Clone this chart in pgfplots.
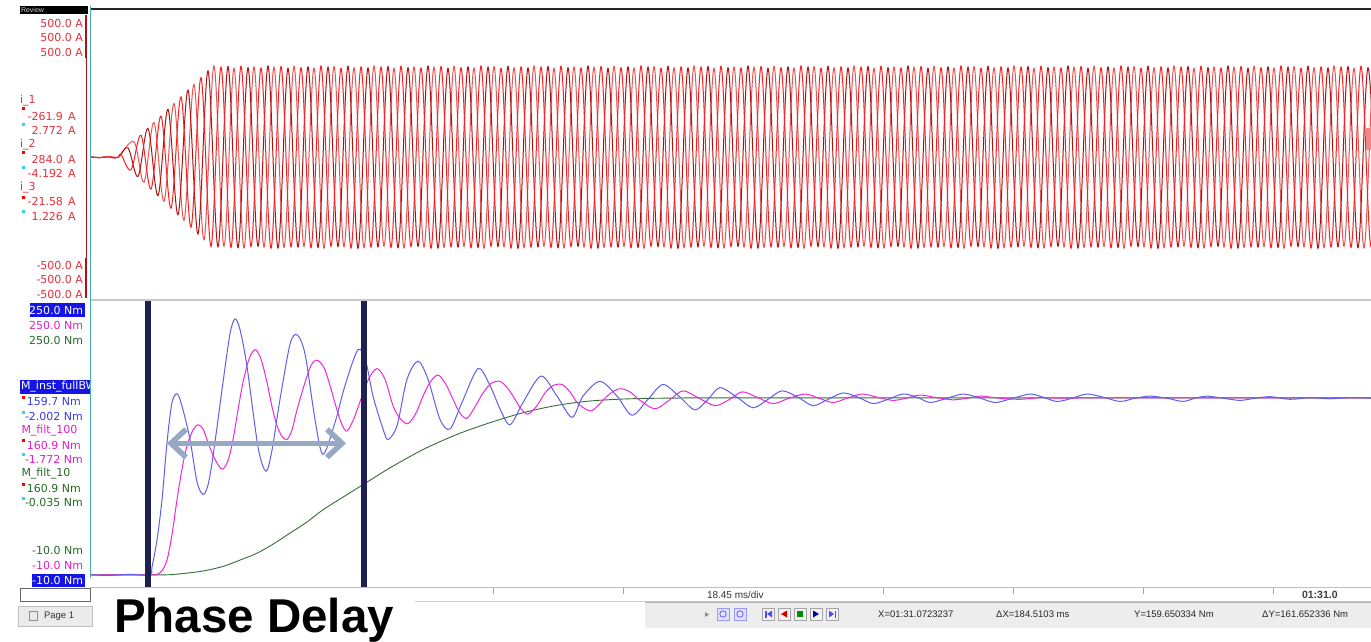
\documentclass[border=0pt]{standalone}
\usepackage{pgfplots}
\pgfplotsset{compat=1.18}
\usetikzlibrary{arrows.meta}
\usepackage{fontspec}
\setmainfont{DejaVu Sans}
\newfontfamily\arialf{Liberation Sans}
\definecolor{ra}{RGB}{250,30,30}
\definecolor{rb}{RGB}{170,20,20}
\definecolor{rc}{RGB}{232,85,85}
\definecolor{cblue}{RGB}{95,95,235}
\definecolor{cmag}{RGB}{240,40,215}
\definecolor{cgrn}{RGB}{55,110,55}
\definecolor{lbred}{RGB}{228,48,58}
\definecolor{lbmag}{RGB}{225,30,205}
\definecolor{lbgrn}{RGB}{40,105,40}
\definecolor{lbblue}{RGB}{60,60,225}
\definecolor{hlblue}{RGB}{20,20,230}
\definecolor{navy}{RGB}{30,32,80}
\definecolor{arrowc}{RGB}{150,168,195}
\definecolor{tealc}{RGB}{64,176,176}
\definecolor{cyanm}{RGB}{60,210,225}
\newcommand\lbl{\fontsize{11}{13}\selectfont}
\begin{document}
\begin{tikzpicture}
\useasboundingbox[fill=white] (0pt,0pt) rectangle (1371pt,641pt);
% ---------------- upper axis: phase currents ----------------
\begin{axis}[at={(91pt,343pt)}, anchor=south west, scale only axis,
  width=1280pt, height=286pt, hide axis,
  xmin=91, xmax=1371, ymin=-500, ymax=500]
\addplot[rc, line width=1pt, smooth, tension=0.55] coordinates {
(91,-7)(100,-9)(108,-6)(118,-8)
(134,46)(144,-95)(154,113)(164,-162)(174,180)(184,-229)(194,247)(204,-296)
(214,311)(224,-319)(234,303)(244,-325)(254,308)(264,-322)(274,307)(284,-323)(294,310)(304,-320)(314,304)(324,-326)(334,309)(344,-321)(354,305)(364,-324)
(374,311)(384,-319)(394,303)(404,-325)(414,308)(424,-322)(434,307)(444,-323)(454,310)(464,-320)(474,304)(484,-326)(494,309)(504,-321)(514,305)(524,-324)
(534,311)(544,-319)(554,303)(564,-325)(574,308)(584,-322)(594,307)(604,-323)(614,310)(624,-320)(634,304)(644,-326)(654,309)(664,-321)(674,305)(684,-324)
(694,311)(704,-319)(714,303)(724,-325)(734,308)(744,-322)(754,307)(764,-323)(774,310)(784,-320)(794,304)(804,-326)(814,309)(824,-321)(834,305)(844,-324)
(854,311)(864,-319)(874,303)(884,-325)(894,308)(904,-322)(914,307)(924,-323)(934,310)(944,-320)(954,304)(964,-326)(974,309)(984,-321)(994,305)(1004,-324)
(1014,311)(1024,-319)(1034,303)(1044,-325)(1054,308)(1064,-322)(1074,307)(1084,-323)(1094,310)(1104,-320)(1114,304)(1124,-326)(1134,309)(1144,-321)(1154,305)(1164,-324)
(1174,311)(1184,-319)(1194,303)(1204,-325)(1214,308)(1224,-322)(1234,307)(1244,-323)(1254,310)(1264,-320)(1274,304)(1284,-326)(1294,309)(1304,-321)(1314,305)(1324,-324)
(1334,311)(1344,-319)(1354,303)(1364,-325)(1374,308)(1384,-322)
};
\addplot[rb, line width=1pt, smooth, tension=0.55] coordinates {
(91,-7)(100,-9)(108,-6)(118,-8)
(128,25)(138,-75)(148,93)(158,-142)(168,160)(178,-209)(188,227)(198,-276)(208,294)
(218,-321)(228,309)(238,-324)(248,305)(258,-319)(268,311)(278,-325)(288,303)(298,-322)(308,308)(318,-323)(328,307)(338,-320)(348,310)(358,-326)(368,304)
(378,-321)(388,309)(398,-324)(408,305)(418,-319)(428,311)(438,-325)(448,303)(458,-322)(468,308)(478,-323)(488,307)(498,-320)(508,310)(518,-326)(528,304)
(538,-321)(548,309)(558,-324)(568,305)(578,-319)(588,311)(598,-325)(608,303)(618,-322)(628,308)(638,-323)(648,307)(658,-320)(668,310)(678,-326)(688,304)
(698,-321)(708,309)(718,-324)(728,305)(738,-319)(748,311)(758,-325)(768,303)(778,-322)(788,308)(798,-323)(808,307)(818,-320)(828,310)(838,-326)(848,304)
(858,-321)(868,309)(878,-324)(888,305)(898,-319)(908,311)(918,-325)(928,303)(938,-322)(948,308)(958,-323)(968,307)(978,-320)(988,310)(998,-326)(1008,304)
(1018,-321)(1028,309)(1038,-324)(1048,305)(1058,-319)(1068,311)(1078,-325)(1088,303)(1098,-322)(1108,308)(1118,-323)(1128,307)(1138,-320)(1148,310)(1158,-326)(1168,304)
(1178,-321)(1188,309)(1198,-324)(1208,305)(1218,-319)(1228,311)(1238,-325)(1248,303)(1258,-322)(1268,308)(1278,-323)(1288,307)(1298,-320)(1308,310)(1318,-326)(1328,304)
(1338,-321)(1348,309)(1358,-324)(1368,305)(1378,-319)
};
\addplot[ra, line width=1pt, smooth, tension=0.55] coordinates {
(91,-7)(100,-9)(108,-6)(118,-8)
(121,2)(131,-52)(141,69)(151,-119)(161,136)(171,-186)(181,203)(191,-253)(201,270)(211,-320)
(221,307)(231,-323)(241,310)(251,-320)(261,304)(271,-326)(281,309)(291,-321)(301,305)(311,-324)(321,311)(331,-319)(341,303)(351,-325)(361,308)(371,-322)
(381,307)(391,-323)(401,310)(411,-320)(421,304)(431,-326)(441,309)(451,-321)(461,305)(471,-324)(481,311)(491,-319)(501,303)(511,-325)(521,308)(531,-322)
(541,307)(551,-323)(561,310)(571,-320)(581,304)(591,-326)(601,309)(611,-321)(621,305)(631,-324)(641,311)(651,-319)(661,303)(671,-325)(681,308)(691,-322)
(701,307)(711,-323)(721,310)(731,-320)(741,304)(751,-326)(761,309)(771,-321)(781,305)(791,-324)(801,311)(811,-319)(821,303)(831,-325)(841,308)(851,-322)
(861,307)(871,-323)(881,310)(891,-320)(901,304)(911,-326)(921,309)(931,-321)(941,305)(951,-324)(961,311)(971,-319)(981,303)(991,-325)(1001,308)(1011,-322)
(1021,307)(1031,-323)(1041,310)(1051,-320)(1061,304)(1071,-326)(1081,309)(1091,-321)(1101,305)(1111,-324)(1121,311)(1131,-319)(1141,303)(1151,-325)(1161,308)(1171,-322)
(1181,307)(1191,-323)(1201,310)(1211,-320)(1221,304)(1231,-326)(1241,309)(1251,-321)(1261,305)(1271,-324)(1281,311)(1291,-319)(1301,303)(1311,-325)(1321,308)(1331,-322)
(1341,307)(1351,-323)(1361,310)(1371,-320)(1381,304)
};
\end{axis}
% ---------------- lower axis: torque ----------------
\begin{axis}[at={(91pt,64pt)}, anchor=south west, scale only axis,
  width=1280pt, height=275pt, hide axis, clip=false,
  xmin=91, xmax=1371, ymin=-10, ymax=250]
\addplot[cgrn, line width=0.9pt, smooth] coordinates {
(91,-8)(150,-8)(170,-7.8)(190,-6)(205,-4)(223,0)(240,6)(257,12.5)(273,21)(290,31.5)(307,42)(323,53.6)(343,65.5)(363,77.3)(390,93.2)(423,110.5)(457,124.8)(490,135.9)(523,145.3)(557,152.3)(590,156.4)(630,158.5)(680,159.2)(750,159.4)(1371,159.4)
};
\addplot[cmag, line width=1pt, smooth] coordinates {
(91,-8)(150,-8)(157,-7.5)(162,-4)(167,6)(172,30)(177,63)(182,92)(187,114)(193,129)(198,134)(203,130)(207,120)(214,103)(222,92)(228,100)(233,120)(238,148)(243,174)(249,196)(255,205)(261,196)(267,174)(272,151)(277,133)(282,123)(287,120)(292,129)(297,148)(305,174)(311,190)(317,195)(324,188)(330,171)(337,148)(342,134)(347,128)(354,140)(362,161)(369,178)(377,187)(385,177)(393,152)(400,140)(408,135)(416,145)(423,161)(430,174)(438,181)(446,172)(453,158)(460,145)(467,140)(475,151)(483,164)(491,173)(500,175)(508,168)(515,158)(521,149)(528,144)(537,152)(545,164)(553,171)(562,172)(570,165)(578,154)(590,147)(598,152)(606,160)(614,166)(621,168)(630,165)(640,157)(655,149)(669,157)(683,166)(699,159)(715,152)(728,157)(742,165)(757,160)(773,154)(789,159)(805,163)(819,159)(833,155)(847,159)(862,163)(877,160)(893,157)(906,159)(920,162)(937,159.5)(953,157.5)(967,159)(980,161)(1000,159)(1020,158)(1040,159.5)(1060,159)(1100,159.3)(1371,159.3)
};
\addplot[cblue, line width=1pt, smooth] coordinates {
(91,-8)(110,-8.5)(130,-7.5)(150,-8)(152,-0.5)(157,25)(162,63)(167,117)(172,155)(177.5,163)(183,148)(190,120)(197,80)(203,68)(208,77)(213,104)(223,174)(230,220)(235,234)(240,224)(247,189)(258,113)(266,90)(272,110)(280,158)(290,210)(297,219)(305,201)(315,139)(323,106)(335,136)(345,171)(358,205)(366,193)(373,161)(383,130)(388,120)(397,133)(407,177)(418,194)(428,177)(440,139)(450,130)(462,155)(478,187)(490,171)(500,149)(510,134)(523,155)(541,180)(557,161)(572,141)(583,161)(600,175)(617,161)(632,143)(648,158)(663,172)(680,160)(695,148)(708,158)(720,169)(737,160)(753,150)(768,158)(782,166)(798,160)(813,152)(828,158)(843,164)(858,160)(873,154)(888,158)(903,163)(917,160)(930,155)(947,159)(963,163)(977,160)(990,156)(997,155)(1013,159)(1030,163)(1043,160)(1057,156)(1072,159)(1087,163)(1103,160)(1120,156)(1135,159)(1150,161)(1167,159)(1183,156)(1195,159)(1207,161)(1223,159)(1240,157)(1255,159)(1270,160.5)(1290,158)(1310,159.5)(1330,158.5)(1350,159.5)(1371,159)
};
\draw[navy, line width=5.5pt] (axis cs:148,-20.4) -- (axis cs:148,251.9);
\draw[navy, line width=5.5pt] (axis cs:364,-20.4) -- (axis cs:364,251.9);
\draw[arrowc, line width=5.5pt, {Straight Barb[length=15pt,width=28pt]}-{Straight Barb[length=15pt,width=28pt]}] (axis cs:167,116.4) -- (axis cs:346,116.4);
\end{axis}
% ---------------- screen furniture (pixel coordinates) ----------------
\begin{scope}[x=1pt,y=-1pt,yshift=641pt, every node/.style={inner sep=0pt, outer sep=0pt, font=\lbl}]
% frame lines
\draw[black!85, line width=2.5pt] (90,9) -- (1371,9);
\fill[black] (20,6) rectangle (88,14);
\node[anchor=west, text=white!80!black, font=\arialf\fontsize{7}{8}\selectfont] at (21,10) {Review};
\draw[black!22, line width=1.6pt] (90,300) -- (1371,300);
\draw[tealc, line width=1.2pt] (90.5,6) -- (90.5,578);
\draw[rb, line width=0.8pt] (86,15) -- (86,298);
\draw[rb, line width=2pt] (86,15) -- (86,58);
\draw[rb, line width=2pt] (86,258) -- (86,298);
\fill[rc!70] (1366,128) rectangle (1371,150);
% upper labels
\foreach \yy in {23,37.7,52.7} {\node[anchor=east, text=lbred] at (83,\yy) {500.0 A};}
\foreach \yy in {265,279.3,294} {\node[anchor=east, text=lbred] at (83,\yy) {-500.0 A};}
\node[anchor=west, text=lbred] at (20,100.7) {i\_1};
\node[anchor=east, text=lbred] at (63,116.7) {-261.9}; \node[anchor=west, text=lbred] at (68,116.7) {A};
\node[anchor=east, text=lbred] at (63,130.7) {2.772}; \node[anchor=west, text=lbred] at (68,130.7) {A};
\node[anchor=west, text=lbred] at (20,144.3) {i\_2};
\node[anchor=east, text=lbred] at (63,159.3) {284.0}; \node[anchor=west, text=lbred] at (68,159.3) {A};
\node[anchor=east, text=lbred] at (63,173.3) {-4.192}; \node[anchor=west, text=lbred] at (68,173.3) {A};
\node[anchor=west, text=lbred] at (20,187.3) {i\_3};
\node[anchor=east, text=lbred] at (63,201.7) {-21.58}; \node[anchor=west, text=lbred] at (68,201.7) {A};
\node[anchor=east, text=lbred] at (63,216) {1.226}; \node[anchor=west, text=lbred] at (68,216) {A};
\foreach \yy in {107,151,196} {\fill[red] (21.5,\yy) rectangle (24.5,\yy+3);}
\foreach \yy in {123,166,210} {\fill[cyanm] (22,\yy) rectangle (25,\yy+3);}
% lower labels
\fill[hlblue] (30,303) rectangle (85,317);
\node[anchor=east, text=white] at (83,310) {250.0 Nm};
\node[anchor=east, text=lbmag] at (83,325) {250.0 Nm};
\node[anchor=east, text=lbgrn] at (83,340) {250.0 Nm};
\fill[hlblue] (20,380) rectangle (90,394);
\begin{scope}\clip (20,378) rectangle (89.5,396);
\node[anchor=west, text=white] at (21,387) {M\_inst\_fullBW};
\end{scope}
\node[anchor=west, text=lbblue] at (27,401.7) {159.7 Nm};
\node[anchor=west, text=lbblue] at (25,416.7) {-2.002 Nm};
\node[anchor=west, text=lbmag] at (21.5,431) {M\_filt\_100};
\node[anchor=west, text=lbmag] at (27,445.7) {160.9 Nm};
\node[anchor=west, text=lbmag] at (25,459.3) {-1.772 Nm};
\node[anchor=west, text=lbgrn] at (21.5,473.7) {M\_filt\_10};
\node[anchor=west, text=lbgrn] at (27,488.3) {160.9 Nm};
\node[anchor=west, text=lbgrn] at (25,502.3) {-0.035 Nm};
\foreach \yy in {396,439.3,482.7} {\fill[red] (21.5,\yy) rectangle (24.5,\yy+3);}
\foreach \yy in {411,453.3,496.7} {\fill[cyanm] (22,\yy) rectangle (25,\yy+3);}
\node[anchor=east, text=lbgrn] at (83,550) {-10.0 Nm};
\node[anchor=east, text=lbmag] at (83,565) {-10.0 Nm};
\fill[hlblue] (32,573.5) rectangle (85,586.5);
\node[anchor=east, text=white] at (83,580) {-10.0 Nm};
% bottom bar
\draw[black!25, line width=1pt] (90,587.5) -- (1371,587.5);
\foreach \xx in {493,623,883,1013,1143,1273} {\draw[black!35, line width=0.8pt] (\xx,587.5) -- (\xx,594);}
\node[anchor=west, text=black!80, font=\arialf\fontsize{10}{12}\selectfont] at (707,594.5) {18.45 ms/div};
\node[anchor=west, text=black!75, font=\arialf\bfseries\fontsize{10.5}{12}\selectfont] at (1302,594.5) {01:31.0};
\draw[black!20, line width=0.8pt] (415,601) -- (1371,601);
\fill[black!7] (645,602) rectangle (1371,628);
\draw[black!30, line width=0.8pt] (645,602) -- (1371,602);
\fill[black!45] (705,612) -- (709,614.5) -- (705,617) -- cycle;
\foreach \xx in {717,734} {\filldraw[fill=blue!12, draw=blue!40] (\xx,608) rectangle (\xx+12,620); \draw[blue!60, line width=0.8pt] (\xx+6,614) circle (3.2pt);}
\foreach \xx in {762,778,794,810,826} {\filldraw[fill=black!5, draw=black!35] (\xx,608) rectangle (\xx+12,620);}
\fill[blue!70] (765,610.5) rectangle (766.5,617.5); \fill[blue!70] (772,610.5) -- (767,614) -- (772,617.5) -- cycle;
\fill[red!80!black] (787,610.5) -- (781,614) -- (787,617.5) -- cycle;
\fill[green!55!black] (797,611) rectangle (803,617);
\fill[blue!60!black] (813,610.5) -- (819,614) -- (813,617.5) -- cycle;
\fill[blue!70] (829,610.5) -- (834,614) -- (829,617.5) -- cycle; \fill[blue!70] (834.5,610.5) rectangle (836,617.5);
\begin{scope}[every node/.style={inner sep=0pt, anchor=west, text=black!85, font=\arialf\fontsize{9.5}{11}\selectfont}]
\node at (878,614.5) {X=01:31.0723237};
\node at (996,614.5) {ΔX=184.5103 ms};
\node at (1134,614.5) {Y=159.650334 Nm};
\node at (1262,614.5) {ΔY=161.652336 Nm};
\end{scope}
% left bottom controls
\filldraw[fill=white, draw=black!60, line width=0.8pt] (20,588) rectangle (90,601);
\filldraw[fill=black!8, draw=black!25] (18,606) rectangle (92,626);
\draw[black!45] (29,611) rectangle (37,620);
\node[anchor=west, text=black!80, font=\arialf\fontsize{9.5}{11}\selectfont] at (44,616) {Page 1};
% Phase Delay
\fill[white] (97,589) rectangle (415,641);
\node[anchor=base west, text=black, font=\arialf\bfseries\fontsize{47.5}{50}\selectfont] at (114,632) {Phase Delay};
\end{scope}
\end{tikzpicture}
\end{document}
